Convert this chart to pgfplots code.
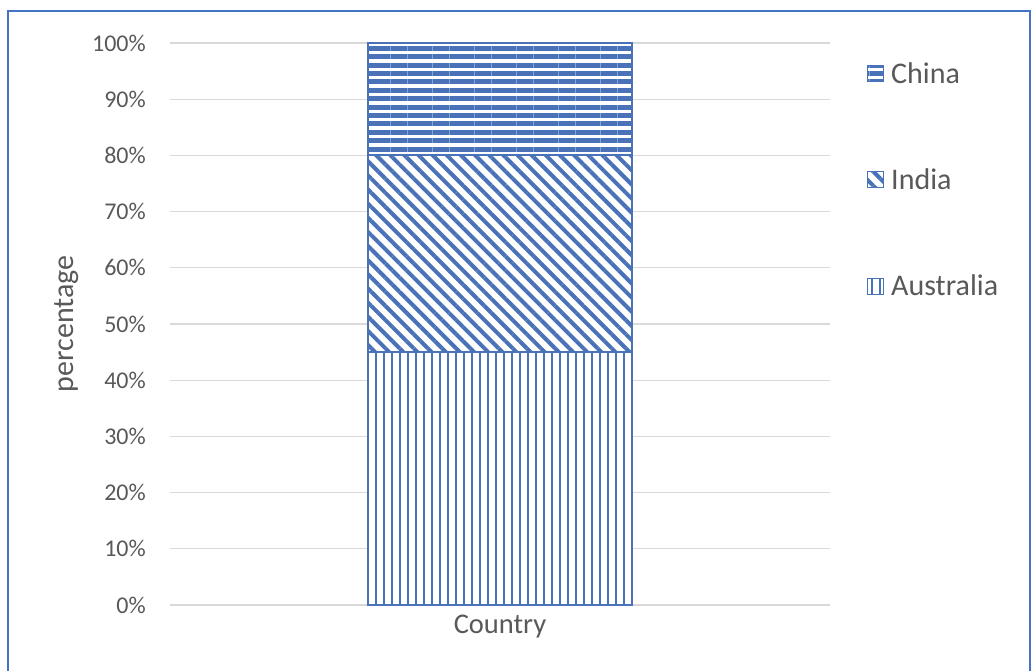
\documentclass[border=0pt]{standalone}
\usepackage{pgfplots}
\pgfplotsset{compat=1.18}
\usetikzlibrary{patterns.meta}
\usepackage{fontspec}
\setmainfont{Carlito}
\definecolor{barblue}{HTML}{4A72B8}
\definecolor{txt}{HTML}{595959}
\definecolor{gridc}{HTML}{D9D9D9}
\definecolor{framec}{HTML}{4472C4}
\begin{document}
\begin{tikzpicture}[x=1pt,y=1pt]
\path[use as bounding box] (0,0) rectangle (1033,670);
\fill[white] (0,0) rectangle (1033,670);
\draw[framec, line width=2pt] (8,-10) rectangle (1030,659);
\begin{axis}[
  at={(170pt,65pt)}, anchor=south west,
  scale only axis, width=660pt, height=562pt,
  ybar stacked, bar width=1,
  xmin=-1.25, xmax=1.25, ymin=0, ymax=100,
  xtick={0}, xticklabels={Country},
  ytick={0,10,...,100},
  yticklabels={0\%,10\%,20\%,30\%,40\%,50\%,60\%,70\%,80\%,90\%,100\%},
  ymajorgrids, grid style={gridc, line width=1.3pt},
  axis x line*=bottom, axis y line*=left,
  x axis line style={gridc, line width=1.3pt, -},
  y axis line style={draw=none},
  major tick length=0pt,
  tick label style={font=\fontsize{24}{28}\selectfont, text=txt},
  yticklabel style={anchor=east, inner sep=0pt, xshift=-24pt},
  xticklabel style={anchor=north, inner sep=0pt, yshift=-10pt, font=\fontsize{28.5}{32}\selectfont},
  ylabel={percentage},
  every axis y label/.style={at={(rel axis cs:0,0.5)}, xshift=-103pt, rotate=90, anchor=center, font=\fontsize{30}{34}\selectfont, text=txt},
  legend style={at={(rel axis cs:1,1)}, anchor=north west, xshift=34pt, yshift=-15pt, draw=none, fill=none,
     font=\fontsize{30}{36}\selectfont, text=txt, row sep=80pt},
  legend cell align=left,
  reverse legend,
  legend image code/.code={\draw[#1, draw=barblue, line width=1pt] (0pt,-8pt) rectangle (16pt,8pt);},
]
\addplot[fill=white, draw=barblue, line width=2pt,
  postaction={pattern={Lines[angle=90, distance=8pt, line width=2pt]}, pattern color=barblue}]
  coordinates {(0,45)};
\addlegendentry{\hspace{5pt}Australia}
\addplot[fill=white, draw=barblue, line width=2pt,
  postaction={pattern={Lines[angle=-45, distance=10pt, line width=4pt]}, pattern color=barblue}]
  coordinates {(0,35)};
\addlegendentry{\hspace{5pt}India}
\addplot[fill=white, draw=barblue, line width=2pt,
  postaction={pattern={Lines[angle=0, distance=8.4pt, line width=5pt]}, pattern color=barblue}]
  coordinates {(0,20)};
\addlegendentry{\hspace{5pt}China}
\end{axis}
\end{tikzpicture}
\end{document}
